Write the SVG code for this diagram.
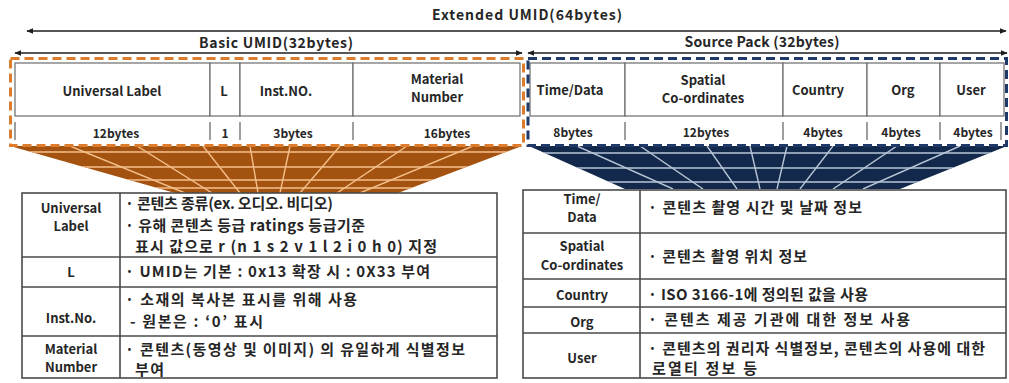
<svg xmlns="http://www.w3.org/2000/svg" width="1009" height="383" viewBox="0 0 1009 383">
  <style>
    text { font-family: "Noto Sans CJK KR", "Noto Sans", sans-serif; fill: #262626; }
    .hd { font-size: 14px; font-weight: bold; }
    .lb { font-size: 13px; font-weight: bold; text-anchor: middle; }
    .by { font-size: 12px; font-weight: bold; text-anchor: middle; }
    .ds { font-size: 15px; font-weight: bold; }
    .cell { fill: #fff; stroke: #6b6b6b; stroke-width: 1.2; }
    .sep { stroke: #6b6b6b; stroke-width: 1.3; }
    .tbl { fill: #fff; stroke: #4a4a4a; stroke-width: 1.6; }
    .row { stroke: #4a4a4a; stroke-width: 1.6; }
    .dim { stroke: #1e1e1e; stroke-width: 1.5; fill: none; }
    .stripeO { stroke: #f4c08c; stroke-width: 1.4; }
    .stripeB { stroke: #b9c6d8; stroke-width: 1.4; }
  </style>
  <defs>
    <marker id="tip" viewBox="0 0 10 10" refX="9" refY="5" markerWidth="7" markerHeight="7" orient="auto-start-reverse" markerUnits="userSpaceOnUse">
      <path d="M0,1 L10,5 L0,9 Z" fill="#1e1e1e"/>
    </marker>
    <clipPath id="fanO"><polygon points="10,146 522,146 398,193 175,193"/></clipPath>
    <clipPath id="fanB"><polygon points="529,146 1007,146 900,189 625,189"/></clipPath>
  </defs>

  <rect width="1009" height="383" fill="#fff"/>

  <!-- dimension arrows and titles -->
  <g id="connectors">
    <line class="dim" x1="27" y1="31" x2="1006" y2="31" marker-start="url(#tip)" marker-end="url(#tip)"/>
    <line class="dim" x1="15" y1="53" x2="522" y2="53" marker-start="url(#tip)" marker-end="url(#tip)"/>
    <line class="dim" x1="528" y1="53" x2="1007" y2="53" marker-start="url(#tip)" marker-end="url(#tip)"/>
  </g>
  <g id="titles">
    <text class="hd" x="527" y="20" text-anchor="middle" textLength="190">Extended UMID(64bytes)</text>
    <text class="hd" x="276" y="48" text-anchor="middle" textLength="154">Basic UMID(32bytes)</text>
    <text class="hd" x="762" y="47" text-anchor="middle" textLength="155">Source Pack (32bytes)</text>
  </g>

  <!-- fans joining the field rows to the detail tables -->
  <g id="fan-basic">
    <polygon points="10,146 522,146 398,193 175,193" fill="#a4520f"/>
    <g clip-path="url(#fanO)">
      <line class="stripeO" x1="0" y1="152" x2="530" y2="152"/>
      <line class="stripeO" x1="0" y1="167" x2="530" y2="167"/>
      <line class="stripeO" x1="0" y1="180" x2="530" y2="180"/>
      <line class="stripeO" x1="0" y1="188" x2="530" y2="188"/>
      <line class="stripeO" x1="70" y1="146" x2="185" y2="193"/>
      <line class="stripeO" x1="137" y1="146" x2="212" y2="193"/>
      <line class="stripeO" x1="203" y1="146" x2="240" y2="193"/>
      <line class="stripeO" x1="250" y1="146" x2="258" y2="193"/>
      <line class="stripeO" x1="290" y1="146" x2="280" y2="193"/>
      <line class="stripeO" x1="340" y1="146" x2="300" y2="193"/>
      <line class="stripeO" x1="407" y1="146" x2="337" y2="193"/>
      <line class="stripeO" x1="473" y1="146" x2="360" y2="193"/>
    </g>
  </g>
  <g id="fan-source">
    <polygon points="529,146 1007,146 900,189 625,189" fill="#13294b"/>
    <g clip-path="url(#fanB)">
      <line class="stripeB" x1="520" y1="153" x2="1009" y2="153"/>
      <line class="stripeB" x1="520" y1="168" x2="1009" y2="168"/>
      <line class="stripeB" x1="520" y1="182" x2="1009" y2="182"/>
      <line class="stripeB" x1="577" y1="146" x2="673" y2="189"/>
      <line class="stripeB" x1="640" y1="146" x2="703" y2="189"/>
      <line class="stripeB" x1="707" y1="146" x2="737" y2="189"/>
      <line class="stripeB" x1="750" y1="146" x2="760" y2="189"/>
      <line class="stripeB" x1="787" y1="146" x2="777" y2="189"/>
      <line class="stripeB" x1="833" y1="146" x2="800" y2="189"/>
      <line class="stripeB" x1="897" y1="146" x2="833" y2="189"/>
      <line class="stripeB" x1="960" y1="146" x2="863" y2="189"/>
    </g>
  </g>

  <!-- Basic UMID field row -->
  <g id="basic-umid">
    <rect x="15" y="63" width="505" height="81" fill="#fff"/>
    <rect class="cell" x="15" y="63" width="195" height="53"/>
    <rect class="cell" x="210" y="63" width="30" height="53"/>
    <rect class="cell" x="240" y="63" width="113" height="53"/>
    <rect class="cell" x="353" y="63" width="167" height="53"/>
    <line class="sep" x1="15" y1="122" x2="15" y2="140"/>
    <line class="sep" x1="210" y1="122" x2="210" y2="140"/>
    <line class="sep" x1="240" y1="122" x2="240" y2="140"/>
    <line class="sep" x1="353" y1="122" x2="353" y2="140"/>
    <text class="lb" x="112" y="96">Universal Label</text>
    <text class="lb" x="224" y="96">L</text>
    <text class="lb" x="286" y="96">Inst.NO.</text>
    <text class="lb" x="437" y="84">Material</text>
    <text class="lb" x="437" y="102">Number</text>
    <text class="by" x="116" y="138">12bytes</text>
    <text class="by" x="225" y="138">1</text>
    <text class="by" x="293" y="138">3bytes</text>
    <text class="by" x="447" y="138">16bytes</text>
    <rect x="10.5" y="58.5" width="513" height="87" fill="none" stroke="#dc7c2c" stroke-width="3" stroke-dasharray="9 5"/>
  </g>

  <!-- Source Pack field row -->
  <g id="source-pack">
    <rect x="530" y="63" width="474" height="81" fill="#fff"/>
    <rect class="cell" x="530" y="63" width="95" height="53"/>
    <rect class="cell" x="625" y="63" width="158" height="53"/>
    <rect class="cell" x="783" y="63" width="84" height="53"/>
    <rect class="cell" x="867" y="63" width="73" height="53"/>
    <rect class="cell" x="940" y="63" width="64" height="53"/>
    <line class="sep" x1="625" y1="122" x2="625" y2="140"/>
    <line class="sep" x1="783" y1="122" x2="783" y2="140"/>
    <line class="sep" x1="867" y1="122" x2="867" y2="140"/>
    <line class="sep" x1="940" y1="122" x2="940" y2="140"/>
    <line class="sep" x1="1001" y1="122" x2="1001" y2="140"/>
    <text class="lb" x="570" y="95">Time/Data</text>
    <text class="lb" x="703" y="85">Spatial</text>
    <text class="lb" x="703" y="103">Co-ordinates</text>
    <text class="lb" x="818" y="95">Country</text>
    <text class="lb" x="903" y="95">Org</text>
    <text class="lb" x="971" y="95">User</text>
    <text class="by" x="573" y="137">8bytes</text>
    <text class="by" x="706" y="137">12bytes</text>
    <text class="by" x="823" y="137">4bytes</text>
    <text class="by" x="901" y="137">4bytes</text>
    <text class="by" x="973" y="137">4bytes</text>
    <rect x="528" y="58.5" width="478.5" height="87" fill="none" stroke="#1f3a68" stroke-width="3" stroke-dasharray="9 5"/>
  </g>

  <!-- Basic UMID detail table -->
  <g id="basic-detail">
    <rect class="tbl" x="22" y="193" width="475" height="185"/>
    <line class="row" x1="120" y1="193" x2="120" y2="378"/>
    <line class="row" x1="22" y1="257" x2="497" y2="257"/>
    <line class="row" x1="22" y1="287" x2="497" y2="287"/>
    <line class="row" x1="22" y1="336" x2="497" y2="336"/>
    <text class="lb" x="71" y="213">Universal</text>
    <text class="lb" x="71" y="231">Label</text>
    <text class="lb" x="71" y="277">L</text>
    <text class="lb" x="71" y="323">Inst.No.</text>
    <text class="lb" x="71" y="354">Material</text>
    <text class="lb" x="71" y="372">Number</text>
    <text class="ds" x="125" y="209" textLength="208">· 콘텐츠 종류(ex. 오디오. 비디오)</text>
    <text class="ds" x="125" y="231" textLength="240">· 유해 콘텐츠 등급 ratings 등급기준</text>
    <text class="ds" x="135" y="252" textLength="302">표시 값으로 r (n 1 s 2 v 1 l 2 i 0 h 0) 지정</text>
    <text class="ds" x="125" y="277" textLength="305">· UMID는 기본 : 0x13  확장 시 : 0X33 부여</text>
    <text class="ds" x="125" y="305" textLength="232">· 소재의 복사본 표시를 위해 사용</text>
    <text class="ds" x="130" y="327" textLength="133">- 원본은 : ‘0’ 표시</text>
    <text class="ds" x="125" y="355" textLength="340">· 콘텐츠(동영상 및 이미지) 의 유일하게 식별정보</text>
    <text class="ds" x="135" y="375" textLength="29">부여</text>
  </g>

  <!-- Source Pack detail table -->
  <g id="source-detail">
    <rect class="tbl" x="523" y="190" width="483" height="188"/>
    <line class="row" x1="640" y1="190" x2="640" y2="378"/>
    <line class="row" x1="523" y1="233" x2="1006" y2="233"/>
    <line class="row" x1="523" y1="279" x2="1006" y2="279"/>
    <line class="row" x1="523" y1="307" x2="1006" y2="307"/>
    <line class="row" x1="523" y1="333" x2="1006" y2="333"/>
    <text class="lb" x="582" y="204">Time/</text>
    <text class="lb" x="582" y="222">Data</text>
    <text class="lb" x="582" y="251">Spatial</text>
    <text class="lb" x="582" y="270">Co-ordinates</text>
    <text class="lb" x="582" y="300">Country</text>
    <text class="lb" x="582" y="327">Org</text>
    <text class="lb" x="582" y="363">User</text>
    <text class="ds" x="648" y="213" textLength="214">· 콘텐츠 촬영 시간 및 날짜 정보</text>
    <text class="ds" x="648" y="262" textLength="159">· 콘텐츠 촬영 위치 정보</text>
    <text class="ds" x="648" y="300" textLength="220">· ISO 3166-1에 정의된 값을 사용</text>
    <text class="ds" x="648" y="325" textLength="262">· 콘텐츠 제공 기관에 대한 정보 사용</text>
    <text class="ds" x="648" y="354" textLength="337">· 콘텐츠의 권리자 식별정보, 콘텐츠의 사용에 대한</text>
    <text class="ds" x="652" y="374" textLength="105">로열티 정보 등</text>
  </g>
</svg>
